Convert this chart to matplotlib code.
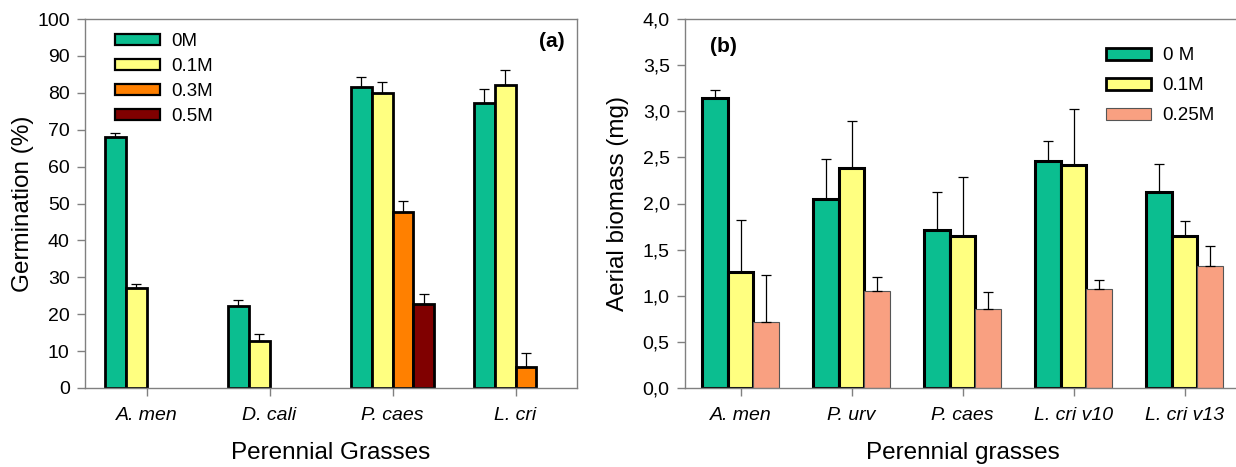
import matplotlib
matplotlib.use("Agg")
import matplotlib.pyplot as plt
import numpy as np
from matplotlib.patches import Patch

plt.rcParams['font.family'] = ['Liberation Sans', 'DejaVu Sans']

# ---- Panel (a) data ----
cats_a = ["A. men", "D. cali", "P. caes", "L. cri"]
series_a = ["0M", "0.1M", "0.3M", "0.5M"]
germ_0M = [68.1, 22.1, 81.7, 77.3]
germ_01M = [27.1, 12.7, 80.0, 82.0]
germ_03M = [0.0, 0.0, 47.6, 5.6]
germ_05M = [0.0, 0.0, 22.7, 0.0]
err_0M = [1.1, 1.8, 2.7, 3.8]
err_01M = [1.1, 1.9, 3.0, 4.1]
err_03M = [0.0, 0.0, 3.0, 3.9]
err_05M = [0.0, 0.0, 2.9, 0.0]
yticks_a = [0, 10, 20, 30, 40, 50, 60, 70, 80, 90, 100]

# ---- Panel (b) data ----
cats_b = ["A. men", "P. urv", "P. caes", "L. cri v10", "L. cri v13"]
series_b = ["0 M", "0.1M", "0.25M"]
bio_0M = [3.145, 2.047, 1.711, 2.466, 2.126]
bio_01M = [1.253, 2.386, 1.653, 2.422, 1.653]
bio_025M = [0.711, 1.047, 0.856, 1.069, 1.321]
berr_0M = [0.08, 0.44, 0.41, 0.21, 0.30]
berr_01M = [0.57, 0.51, 0.63, 0.60, 0.16]
berr_025M = [0.51, 0.16, 0.18, 0.10, 0.22]
yticks_b = [0.0, 0.5, 1.0, 1.5, 2.0, 2.5, 3.0, 3.5, 4.0]

GREEN = "#0BBE90"
YELLOW = "#FFFF80"
ORANGE = "#FF8000"
MAROON = "#800000"
SALMON = "#F9A081"
SPINE = "#808080"

W, H = 1236, 467
fig = plt.figure(figsize=(W/100, H/100), dpi=100)
ax1 = fig.add_axes([85/W, 1-388/H, (577-85)/W, (388-19)/H])
ax2 = fig.add_axes([685/W, 1-388/H, (1240-685)/W, (388-19)/H])

TICK_FS = 14
LABEL_FS = 17.5
LEG_FS = 13.5

def style_axes(ax):
    for s in ax.spines.values():
        s.set_color(SPINE)
        s.set_linewidth(1.0)
    ax.tick_params(axis='both', direction='out', color=SPINE, length=6, width=1,
                   labelsize=TICK_FS, labelcolor='black', pad=5)

# Panel (a)
x = np.arange(len(cats_a))
w = 0.17
vals = [germ_0M, germ_01M, germ_03M, germ_05M]
errs = [err_0M, err_01M, err_03M, err_05M]
cols = [GREEN, YELLOW, ORANGE, MAROON]
for i, (v, e, c) in enumerate(zip(vals, errs, cols)):
    xs = x + (i - 1.5) * w
    v = np.array(v); e = np.array(e)
    m = v > 0
    ax1.bar(xs[m], v[m], w, color=c, edgecolor='black', linewidth=2.0, zorder=2)
    ax1.errorbar(xs[m], v[m], yerr=[np.zeros(m.sum()), e[m]], fmt='none',
                 ecolor='black', elinewidth=0.9, capsize=3.7, capthick=0.9, zorder=3)
ax1.set_xlim(-0.5, 3.5)
ax1.set_ylim(0, 100)
ax1.set_yticks(yticks_a)
ax1.set_xticks(x)
ax1.set_xticklabels(cats_a, style='italic')
style_axes(ax1)
ax1.tick_params(axis='x', pad=8)
ax1.set_ylabel("Germination (%)", fontsize=LABEL_FS)
ax1.yaxis.set_label_coords((23-85)/492, 0.5)
ax1.yaxis.label.set_va('center')
ax1.set_xlabel("Perennial Grasses", fontsize=LABEL_FS)
ax1.xaxis.set_label_coords(0.5, (388-453)/369)
ax1.xaxis.label.set_va('center')
ax1.text(0.975, 0.94, "(a)", transform=ax1.transAxes, ha='right', va='center',
         fontsize=15, fontweight='bold')
handles = [Patch(facecolor=c, edgecolor='black', linewidth=1.6) for c in cols]
ax1.legend(handles, series_a, loc='upper left',
           bbox_to_anchor=(106/W, 1-24/H), bbox_transform=fig.transFigure,
           borderpad=0, frameon=False, fontsize=LEG_FS, handlelength=2.4,
           handleheight=0.55, handletextpad=0.6, labelspacing=0.42)

# Panel (b)
xb = np.arange(len(cats_b))
wb = 0.23
valsb = [bio_0M, bio_01M, bio_025M]
errsb = [berr_0M, berr_01M, berr_025M]
colsb = [GREEN, YELLOW, SALMON]
edgew = [2.2, 2.2, 0.8]
edgec = ['black', 'black', '#555555']
for i, (v, e, c) in enumerate(zip(valsb, errsb, colsb)):
    xs = xb + (i - 1) * wb
    ax2.bar(xs, v, wb, color=c, edgecolor=edgec[i], linewidth=edgew[i], zorder=2)
    ax2.errorbar(xs, v, yerr=[np.zeros(len(v)), e], fmt='none',
                 ecolor='black', elinewidth=0.9, capsize=3.4, capthick=0.9, zorder=3)
ax2.set_xlim(-0.5, 4.5)
ax2.set_ylim(0, 4.0)
ax2.set_yticks(yticks_b)
ax2.set_yticklabels([f"{t:.1f}".replace('.', ',') for t in yticks_b])
ax2.set_xticks(xb)
ax2.set_xticklabels(cats_b, style='italic')
style_axes(ax2)
ax2.spines['right'].set_visible(False)
ax2.tick_params(axis='x', pad=8)
ax2.set_ylabel("Aerial biomass (mg)", fontsize=LABEL_FS)
ax2.yaxis.set_label_coords((618-685)/555, 0.5)
ax2.yaxis.label.set_va('center')
ax2.set_xlabel("Perennial grasses", fontsize=LABEL_FS)
ax2.xaxis.set_label_coords(0.5, (388-453)/369)
ax2.xaxis.label.set_va('center')
ax2.text(0.045, 0.925, "(b)", transform=ax2.transAxes, ha='left', va='center',
         fontsize=15, fontweight='bold')
handlesb = [Patch(facecolor=c, edgecolor=ec, linewidth=lw)
            for c, ec, lw in zip(colsb, edgec, [2.0, 2.0, 0.8])]
ax2.legend(handlesb, series_b, loc='upper left',
           bbox_to_anchor=(1097/W, 1-38/H), bbox_transform=fig.transFigure,
           borderpad=0, frameon=False, fontsize=LEG_FS, handlelength=2.4,
           handleheight=0.6, handletextpad=0.6, labelspacing=0.69)

fig.savefig("out.png", dpi=100)
